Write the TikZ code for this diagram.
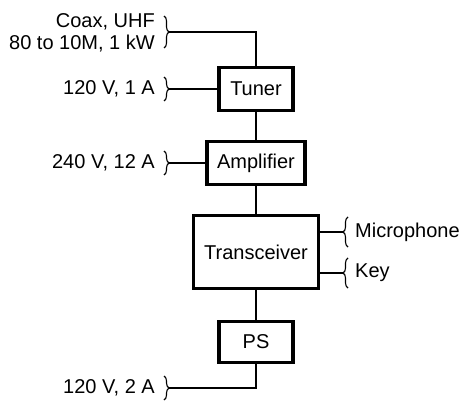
\documentclass[tikz,border=0pt]{standalone}
\usepackage{fontspec}
\setmainfont{Liberation Sans}
\usetikzlibrary{positioning, decorations.pathreplacing}

\begin{document}
\begin{tikzpicture}[x=1pt, y=1pt, font=\fontsize{20}{22}\selectfont,
  unit/.style={draw, line width=3.2pt, minimum height=43pt, inner sep=0pt},
  wire/.style={line width=1.5pt},
  curly/.style={decorate, decoration={brace, amplitude=5pt}, line width=1.1pt},
  lbl/.style={inner sep=0pt, align=right}]
\useasboundingbox (0,0) rectangle (462,402);

% station blocks
\node[unit, minimum width=74pt]  (tuner) at (256,313) {Tuner};
\node[unit, minimum width=98pt]  (amp)   at (256,239) {Amplifier};
\node[unit, minimum width=125pt, minimum height=73pt] (xcvr) at (256,150) {Transceiver};
\node[unit, minimum width=74pt, minimum height=41pt]  (ps)    at (256,60)  {PS};

% outside connections
\node[lbl, anchor=east] (coax)  at (155,369) {Coax, UHF\\80 to 10M, 1 kW};
\node[lbl, anchor=east] (tunpw) at (155,313) {120 V, 1 A};
\node[lbl, anchor=east] (amppw) at (155,239) {240 V, 12 A};
\node[lbl, anchor=east] (mains) at (155,14)  {120 V, 2 A};
\node[lbl, anchor=west] (mic)   at (355,170) {Microphone};
\node[lbl, anchor=west] (key)   at (355,129) {Key};

\coordinate (coaxtip)  at (169,370);
\coordinate (tunpwtip) at (169,313);
\coordinate (amppwtip) at (169,239);
\coordinate (mainstip) at (169,14);
\coordinate (mictip)   at (343,170);
\coordinate (keytip)   at (343,129);

\draw[curly] ([shift={(-5,16)}]coaxtip)  -- ([shift={(-5,-16)}]coaxtip);
\draw[curly] ([shift={(-5,12)}]tunpwtip) -- ([shift={(-5,-12)}]tunpwtip);
\draw[curly] ([shift={(-5,12)}]amppwtip) -- ([shift={(-5,-12)}]amppwtip);
\draw[curly] ([shift={(-5,12)}]mainstip) -- ([shift={(-5,-12)}]mainstip);
\draw[curly] ([shift={(5,-15)}]mictip)   -- ([shift={(5,15)}]mictip);
\draw[curly] ([shift={(5,-15)}]keytip)   -- ([shift={(5,15)}]keytip);

\draw[wire] (coaxtip) -| (tuner.north);
\draw[wire] (tunpwtip) -- (tuner.west);
\draw[wire] (amppwtip) -- (amp.west);
\draw[wire] (mainstip) -| (ps.south);
\draw[wire] (tuner) -- (amp);
\draw[wire] (amp) -- (xcvr);
\draw[wire] (xcvr) -- (ps);
\draw[wire] (mictip) -- (mictip -| xcvr.east);
\draw[wire] (keytip) -- (keytip -| xcvr.east);

\end{tikzpicture}
\end{document}
